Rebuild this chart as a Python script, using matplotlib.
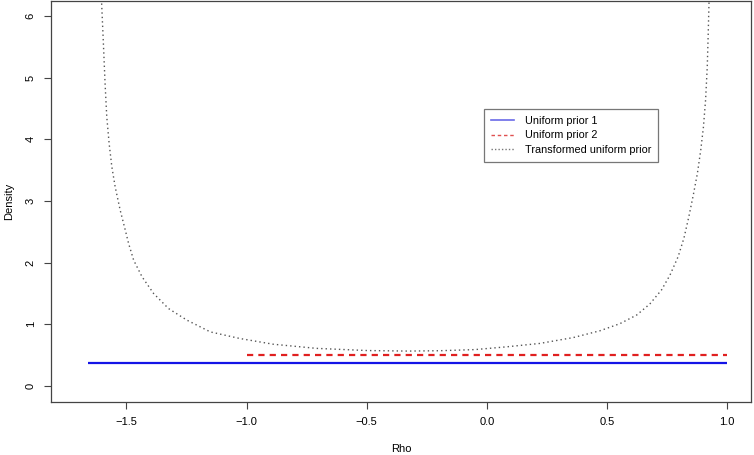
import matplotlib
matplotlib.use("Agg")
import matplotlib.pyplot as plt
from matplotlib.lines import Line2D

plt.rcParams['font.family'] = ['Liberation Sans', 'DejaVu Sans']

# Uniform prior 1 (flat density over its support)
u1_x = [-1.66, 1.0]
u1_y = [0.376, 0.376]

# Uniform prior 2
u2_x = [-1.0, 1.0]
u2_y = [0.5, 0.5]

# Transformed uniform prior
tr_x = [-1.607, -1.603, -1.596, -1.589, -1.582, -1.572, -1.561, -1.547, -1.526, -1.505,
        -1.491, -1.47, -1.435, -1.387, -1.325, -1.248, -1.151, -1.028, -0.889, -0.709,
        -0.5, -0.33, -0.196, -0.05, 0.082, 0.22, 0.359, 0.47, 0.553, 0.623,
        0.678, 0.727, 0.762, 0.796, 0.82, 0.84, 0.859, 0.876, 0.89, 0.901,
        0.91, 0.917, 0.921, 0.924, 0.927]
tr_y = [6.6, 6.18, 5.56, 4.91, 4.37, 3.93, 3.56, 3.23, 2.85, 2.53,
        2.31, 2.04, 1.77, 1.50, 1.256, 1.067, 0.877, 0.77, 0.677, 0.61,
        0.575, 0.566, 0.572, 0.59, 0.635, 0.69, 0.785, 0.895, 1.01, 1.15,
        1.33, 1.56, 1.8, 2.1, 2.4, 2.74, 3.1, 3.45, 3.83, 4.2,
        4.64, 5.18, 5.72, 6.18, 6.6]

labels = ["Uniform prior 1", "Uniform prior 2", "Transformed uniform prior"]
xticks = [-1.5, -1.0, -0.5, 0.0, 0.5, 1.0]
yticks = [0, 1, 2, 3, 4, 5, 6]

blue = '#1414e6'
red = '#e02020'
grey = '#555555'

fig = plt.figure(figsize=(7.54, 4.55), dpi=100)
ax = fig.add_axes([51 / 754, 1 - 402 / 455, 700 / 754, 401 / 455])

ax.plot(u1_x, u1_y, color=blue, lw=1.6, solid_capstyle='butt')
ax.plot(u2_x, u2_y, color=red, lw=1.6, linestyle=(0, (2.8, 2.3)))
ax.plot(tr_x, tr_y, color=grey, lw=1.0, linestyle=(0, (1, 2.2)))

ax.set_xlim(-1.814, 1.099)
ax.set_ylim(-0.26, 6.245)
ax.set_xticks(xticks)
ax.set_xticklabels([f"{v:.1f}".replace('-', '\u2212') for v in xticks])
ax.set_yticks(yticks)
ax.set_yticklabels([str(v) for v in yticks], rotation=90, va='center')
ax.tick_params(direction='out', length=5, width=0.8, color='#444444',
               labelsize=8, pad=6)
for s in ax.spines.values():
    s.set_color('#444444')
    s.set_linewidth(0.9)

ax.set_xlabel("Rho", fontsize=8, labelpad=12)
ax.set_ylabel("Density", fontsize=8, labelpad=8)

# legend handles are drawn thin, as in the original
handles = [Line2D([], [], color='#6a6ae8', lw=1.2),
           Line2D([], [], color='#e05050', lw=1.0, linestyle=(0, (2.5, 2))),
           Line2D([], [], color='#777777', lw=1.0, linestyle=(0, (1, 1.5)))]
leg = fig.legend(handles, labels,
                 loc='upper left', bbox_to_anchor=(484 / 754, 1 - 109 / 455),
                 frameon=True, fancybox=False, fontsize=7.8, handlelength=2.1,
                 handletextpad=1.0, labelspacing=0.4, borderpad=0.65,
                 borderaxespad=0)
leg.get_frame().set_edgecolor('#555555')
leg.get_frame().set_linewidth(0.9)

fig.savefig("out.png", dpi=100)
